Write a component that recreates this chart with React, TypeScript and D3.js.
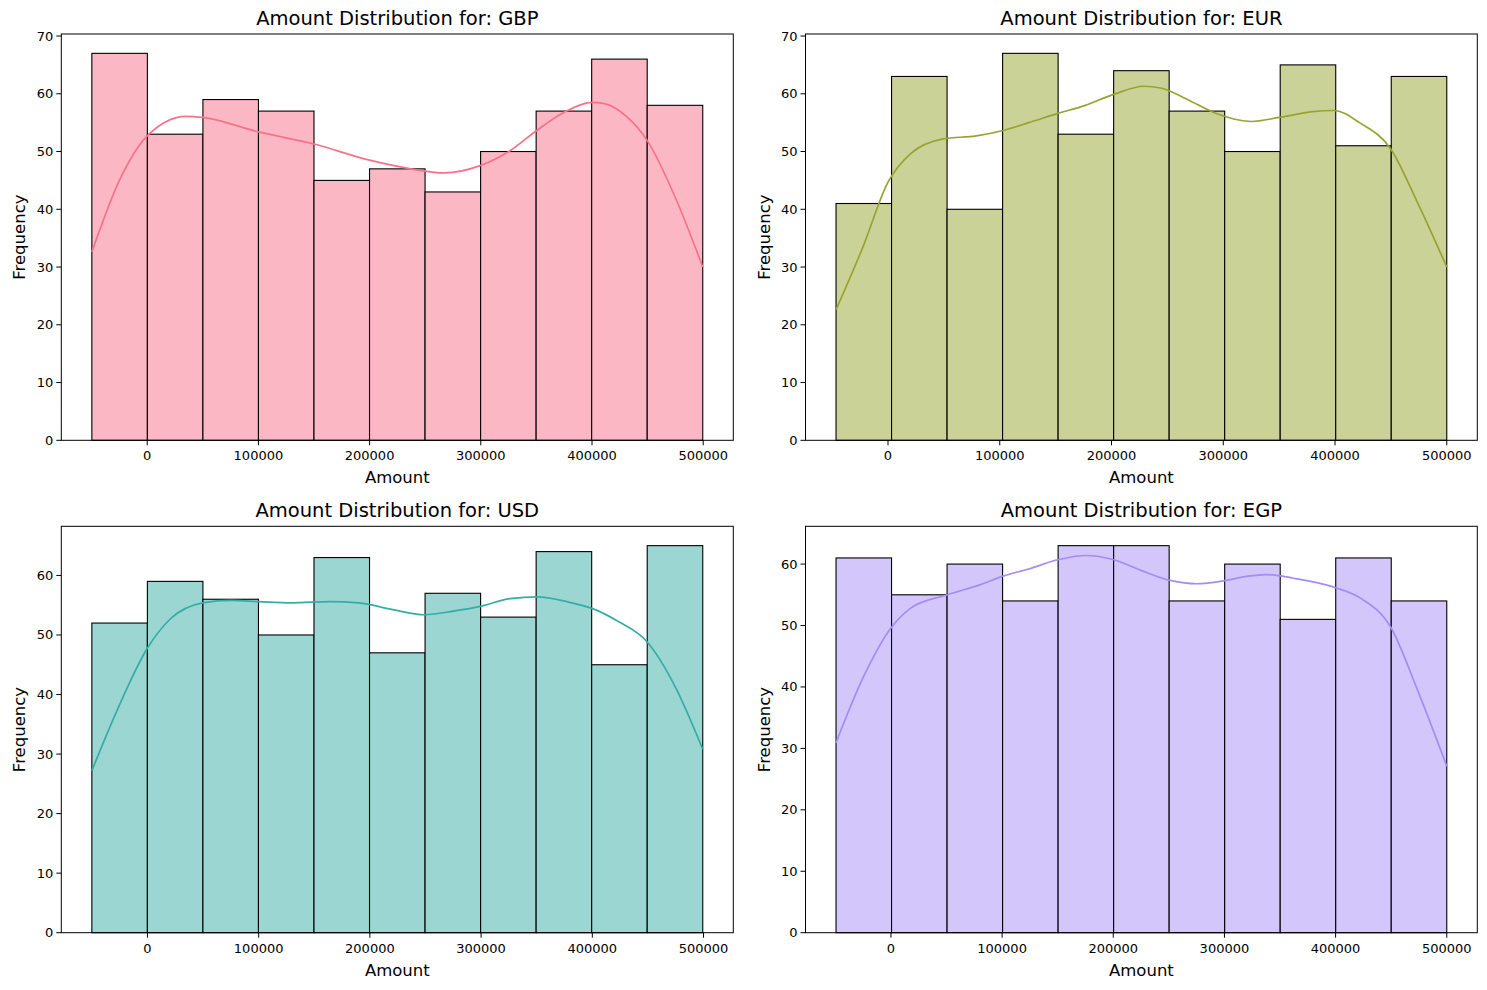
import React from "react";
import * as d3 from "d3";

const currencies = ["GBP", "EUR", "USD", "EGP"];
const lineColors = ["#f77189", "#97a431", "#36ada4", "#a48cf4"];

const gbpCounts = [67, 53, 59, 57, 45, 47, 43, 50, 57, 66, 58];
const eurCounts = [41, 63, 40, 67, 53, 64, 57, 50, 65, 51, 63];
const usdCounts = [52, 59, 56, 50, 63, 47, 57, 53, 64, 45, 65];
const egpCounts = [61, 55, 60, 54, 63, 63, 54, 60, 51, 61, 54];

const gbpRange = [-49800, 499600];
const eurRange = [-46500, 500000];
const usdRange = [-50000, 499300];
const egpRange = [-49400, 500000];

const gbpKdeX = [-49800, -25000, 0, 35000, 50000, 100000, 150000, 200000, 237000, 267000, 300000, 326000, 350000, 375000, 400000, 411000, 432000, 450000, 475000, 499600];
const gbpKdeY = [32.6, 45, 52.7, 56.1, 55.9, 53.4, 51.3, 48.5, 47, 46.3, 47.6, 50.1, 53.6, 56.8, 58.5, 58.3, 55.9, 51.8, 42, 30.0];

const eurKdeX = [-46500, -22400, 0, 20000, 49500, 79000, 102000, 126000, 152000, 176500, 202000, 229000, 244000, 270000, 295000, 325000, 350000, 380000, 399000, 422000, 450000, 473000, 500000];
const eurKdeY = [22.6, 33.5, 44.7, 49.6, 52.2, 52.7, 53.6, 55.0, 56.6, 58, 59.9, 61.3, 61, 58.8, 56.5, 55.2, 55.9, 56.9, 57.1, 55, 50.4, 41.5, 30];

const usdKdeX = [-50000, -26700, 0, 20000, 49700, 75000, 100000, 130000, 164000, 190000, 219500, 249000, 275000, 299000, 326000, 351000, 377000, 402000, 423000, 449000, 474000, 499300];
const usdKdeY = [27.2, 37.6, 47.8, 52.6, 55.4, 55.8, 55.6, 55.4, 55.6, 55.4, 54.3, 53.4, 54, 54.8, 56.1, 56.4, 55.6, 54.3, 52.3, 48.9, 41.5, 30.8];

const egpKdeX = [-49400, -25100, 0, 17500, 50700, 81000, 100000, 124000, 150000, 175000, 200600, 226000, 252000, 275000, 300000, 320000, 337000, 362000, 401000, 422000, 450000, 473000, 500000];
const egpKdeY = [30.9, 41.5, 49.6, 52.8, 55, 56.7, 58, 59.2, 60.7, 61.4, 60.7, 58.9, 57.3, 56.8, 57.3, 58, 58.3, 57.7, 56.1, 54.5, 49.6, 39.8, 27.1];

const xTicks = [0, 100000, 200000, 300000, 400000, 500000];

const allCounts = [gbpCounts, eurCounts, usdCounts, egpCounts];
const allRanges = [gbpRange, eurRange, usdRange, egpRange];
const allKdeX = [gbpKdeX, eurKdeX, usdKdeX, egpKdeX];
const allKdeY = [gbpKdeY, eurKdeY, usdKdeY, egpKdeY];

const FONT = "DejaVu Sans, sans-serif";
const colLeft = [61.3, 805.5];
const colRight = [733.3, 1477.3];
const rowTop = [34, 526.3];
const rowBottom = [440.3, 932.7];

function fillColor(c: string) {
  const rgb = d3.rgb(c);
  const mix = (v: number) => Math.round(v * 0.5 + 255 * 0.5);
  return d3.rgb(mix(rgb.r), mix(rgb.g), mix(rgb.b)).formatHex();
}

function Panel({ idx }: { idx: number }) {
  const col = idx % 2;
  const row = Math.floor(idx / 2);
  const left = colLeft[col];
  const right = colRight[col];
  const top = rowTop[row];
  const bottom = rowBottom[row];
  const counts = allCounts[idx];
  const [lo, hi] = allRanges[idx];
  const span = hi - lo;
  const x = d3.scaleLinear().domain([lo - 0.05 * span, hi + 0.05 * span]).range([left, right]);
  const yMax = (d3.max(counts) as number) * 1.05;
  const y = d3.scaleLinear().domain([0, yMax]).range([bottom, top]);
  const binW = span / counts.length;
  const yTicks = d3.range(0, yMax, 10);
  const color = lineColors[idx];
  const fill = fillColor(color);
  const kdePts: [number, number][] = allKdeX[idx].map((v, i) => [v, allKdeY[idx][i]]);
  const line = d3
    .line<[number, number]>()
    .x((d) => x(d[0]))
    .y((d) => y(d[1]))
    .curve(d3.curveMonotoneX);
  const midX = (left + right) / 2;
  const midY = (top + bottom) / 2;
  return (
    <g>
      {counts.map((c, i) => {
        const x0 = x(lo + i * binW);
        const x1 = x(lo + (i + 1) * binW);
        return (
          <rect
            key={i}
            x={x0}
            y={y(c)}
            width={x1 - x0}
            height={y(0) - y(c)}
            fill={fill}
            stroke="#000"
            strokeWidth={1.1}
          />
        );
      })}
      <path d={line(kdePts) || ""} fill="none" stroke={color} strokeWidth={1.7} />
      <rect x={left} y={top} width={right - left} height={bottom - top} fill="none" stroke="#000" strokeWidth={1} />
      {xTicks.map((t) => (
        <g key={t}>
          <line x1={x(t)} x2={x(t)} y1={bottom} y2={bottom + 5} stroke="#000" strokeWidth={1} />
          <text x={x(t)} y={bottom + 20} textAnchor="middle" fontSize={13} fontFamily={FONT}>
            {d3.format("d")(t)}
          </text>
        </g>
      ))}
      {yTicks.map((t) => (
        <g key={t}>
          <line x1={left - 5} x2={left} y1={y(t)} y2={y(t)} stroke="#000" strokeWidth={1} />
          <text x={left - 8} y={y(t) + 4.5} textAnchor="end" fontSize={13} fontFamily={FONT}>
            {t}
          </text>
        </g>
      ))}
      <text x={midX} y={top - 9.5} textAnchor="middle" fontSize={19.5} fontFamily={FONT}>
        {`Amount Distribution for: ${currencies[idx]}`}
      </text>
      <text x={midX} y={bottom + 43} textAnchor="middle" fontSize={16.5} fontFamily={FONT}>
        Amount
      </text>
      <text
        transform={`translate(${left - 36},${midY}) rotate(-90)`}
        textAnchor="middle"
        fontSize={16.5}
        fontFamily={FONT}
      >
        Frequency
      </text>
    </g>
  );
}

export default function App() {
  return (
    <div style={{ position: "absolute", left: 0, top: 0 }}>
      <svg width={1487} height={990} style={{ display: "block", background: "#fff" }}>
        {currencies.map((c, i) => (
          <Panel key={c} idx={i} />
        ))}
      </svg>
    </div>
  );
}
